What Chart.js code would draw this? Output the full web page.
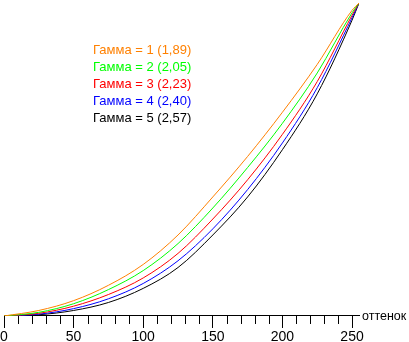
<!DOCTYPE html>
<html>
<head>
<meta charset="utf-8">
<script src="https://cdn.jsdelivr.net/npm/chart.js@4/dist/chart.umd.min.js"></script>
<style>
    html, body { margin: 0; padding: 0; background: #fff; }
    #wrap { width: 409px; height: 342px; }
</style>
</head>
<body>
<div id="wrap"><canvas id="gammaChart"></canvas></div>
<script>
// Входной уровень (оттенок)
const levels = [0, 25, 50, 75, 100, 125, 150, 175, 200, 225, 250, 255];

// Измеренные кривые, выходной уровень
const gamma1 = [0, 4.5, 12.5, 25, 42, 66, 97, 130, 166, 205, 249, 255];
const gamma2 = [0, 3, 10, 21.5, 37, 59, 88, 121, 157, 198, 247, 255];
const gamma3 = [0, 2.2, 8, 17.5, 31, 51, 79, 111, 148, 191, 245, 255];
const gamma4 = [0, 1.5, 6, 14, 26.5, 45, 71, 103, 141, 186, 243, 255];
const gamma5 = [0, 1, 4.5, 11, 22.5, 39.5, 66, 97, 135.5, 181, 241, 255];

const seriesLabels = ['Гамма = 1 (1,89)', 'Гамма = 2 (2,05)', 'Гамма = 3 (2,23)', 'Гамма = 4 (2,40)', 'Гамма = 5 (2,57)'];
const seriesColors = ['#ff8000', '#00ff00', '#ff0000', '#0000ff', '#000000'];

// Подписи оси X
const xTickLabels = [0, 50, 100, 150, 200, 250];
const xMinorTicks = [10, 20, 30, 40, 60, 70, 80, 90, 110, 120, 130, 140, 160, 170, 180, 190, 210, 220, 230, 240];
const xAxisTitle = 'оттенок';

const FONT = '"Liberation Sans", Arial, sans-serif';

function toPoints(values) {
    return levels.map((x, i) => ({ x: x, y: values[i] }));
}

// Легенда текстом и мелкие деления оси
const extrasPlugin = {
    id: 'extras',
    afterDraw(chart) {
        const ctx = chart.ctx;
        const xScale = chart.scales.x;
        const bottom = chart.chartArea.bottom;

        ctx.save();
        ctx.strokeStyle = '#000';
        ctx.lineWidth = 1;
        ctx.beginPath();
        xMinorTicks.forEach(v => {
            const px = Math.round(xScale.getPixelForValue(v)) + 0.5;
            ctx.moveTo(px, bottom);
            ctx.lineTo(px, bottom + 8);
        });
        ctx.stroke();

        ctx.textBaseline = 'alphabetic';
        ctx.textAlign = 'left';
        ctx.fillStyle = '#000';
        ctx.font = '12.5px ' + FONT;
        ctx.fillText(xAxisTitle, 362, 320);

        ctx.font = '13px ' + FONT;
        seriesLabels.forEach((label, i) => {
            ctx.fillStyle = seriesColors[i];
            ctx.fillText(label, 93, 54 + i * 17);
        });
        ctx.restore();
    }
};

const allSeries = [gamma1, gamma2, gamma3, gamma4, gamma5];

new Chart(document.getElementById('gammaChart'), {
    type: 'line',
    data: {
        datasets: allSeries.map((values, i) => ({
            label: seriesLabels[i],
            data: toPoints(values),
            borderColor: seriesColors[i],
            borderWidth: 1,
            pointRadius: 0,
            fill: false,
            cubicInterpolationMode: 'monotone'
        }))
    },
    options: {
        responsive: true,
        maintainAspectRatio: false,
        animation: false,
        layout: {
            padding: { left: 4, right: 50, top: 3, bottom: -4 }
        },
        plugins: {
            legend: { display: false },
            tooltip: { enabled: false }
        },
        scales: {
            x: {
                type: 'linear',
                min: 0,
                max: 255,
                border: { display: true, color: '#000', width: 1 },
                grid: {
                    drawOnChartArea: false,
                    drawTicks: true,
                    tickLength: 12,
                    color: ctx => (ctx.tick && xTickLabels.includes(ctx.tick.value)) ? '#000' : 'rgba(0,0,0,0)'
                },
                afterBuildTicks: scale => {
                    scale.ticks = xTickLabels.map(v => ({ value: v }));
                },
                ticks: {
                    autoSkip: false,
                    maxRotation: 0,
                    padding: 0,
                    color: '#000',
                    font: { family: FONT, size: 14, lineHeight: 1.286 },
                    callback: v => String(v)
                }
            },
            y: {
                display: false,
                min: 0,
                max: 255
            }
        }
    },
    plugins: [extrasPlugin]
});
</script>
</body>
</html>
